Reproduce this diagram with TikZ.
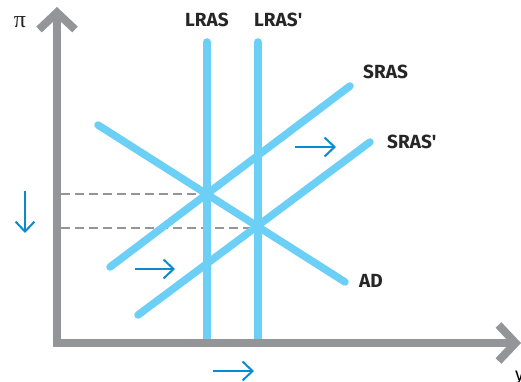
\documentclass[tikz,border=0pt]{standalone}
\usepackage{fontspec}
\setmainfont{Fira Sans}
\newfontfamily\pifont{Liberation Serif}
\usetikzlibrary{arrows.meta}
\definecolor{curveblue}{HTML}{6CCFF6}
\definecolor{arrowblue}{HTML}{0A8AD0}
\definecolor{axisgray}{HTML}{939598}
\begin{document}
\begin{tikzpicture}[x=1pt, y=-1pt,
  curve/.style={line width=7.5pt, curveblue, line cap=round},
  axis/.style={line width=8pt, axisgray, line join=miter,
    {Straight Barb[length=17pt, width=36pt]}-{Straight Barb[length=17pt, width=36pt]}},
  shiftarrow/.style={line width=2pt, arrowblue, -{Straight Barb[length=10pt, width=19pt]}},
  guide/.style={line width=2pt, axisgray, dash pattern=on 9pt off 5pt},
  lbl/.style={font=\fontsize{19}{21}\selectfont\bfseries, text=black!85, inner sep=0pt}]

\useasboundingbox (0,0) rectangle (521,382);

\coordinate (o) at (57,343);
\coordinate (ytop) at (57,7);
\coordinate (xend) at (521,343);

\coordinate (lr1) at (207,42);  \coordinate (lr0) at (207,339);
\coordinate (lq1) at (258,42);  \coordinate (lq0) at (258,339);
\coordinate (s0) at (110,267);  \coordinate (s1) at (350,86);
\coordinate (t0) at (138,315);  \coordinate (t1) at (370,142);
\coordinate (ad0) at (98,125);  \coordinate (ad1) at (345,282);

\coordinate (e1) at (207,194);  \coordinate (e1a) at (61,194);
\coordinate (e2) at (258,228);  \coordinate (e2a) at (61,228);

\draw[guide] (e1a) -- (e1);
\draw[guide] (e2a) -- (e2);

\draw[curve] (lr0) -- (lr1);
\draw[curve] (lq0) -- (lq1);
\draw[curve] (s0) -- (s1);
\draw[curve] (t0) -- (t1);
\draw[curve] (ad0) -- (ad1);

\draw[axis] (ytop) -- (o) -- (xend);

\node[lbl] (lras) at (207,20) {LRAS};
\node[lbl, anchor=west] (lrasp) at (254,20) {LRAS\textquotesingle};
\node[lbl, anchor=west] (sras) at (363,72) {SRAS};
\node[lbl, anchor=west] (srasp) at (387,142) {SRAS\textquotesingle};
\node[lbl, anchor=west] (ad) at (359,281) {AD};
\node[font=\fontsize{24}{24}\selectfont\pifont, text=black!85, inner sep=0pt] (pi) at (20,22) {π};
\node[font=\fontsize{18}{20}\selectfont, anchor=west, inner sep=0pt] (ylab) at (515,378) {y};

\coordinate (a1s) at (295,147);  \coordinate (a1e) at (336,147);
\coordinate (a2s) at (135,269);  \coordinate (a2e) at (175,269);
\coordinate (a3s) at (213,371);  \coordinate (a3e) at (254,371);
\coordinate (a4s) at (25,191);   \coordinate (a4e) at (25,233);

\draw[shiftarrow] (a1s) -- (a1e);
\draw[shiftarrow] (a2s) -- (a2e);
\draw[shiftarrow] (a3s) -- (a3e);
\draw[shiftarrow] (a4s) -- (a4e);

\end{tikzpicture}
\end{document}
